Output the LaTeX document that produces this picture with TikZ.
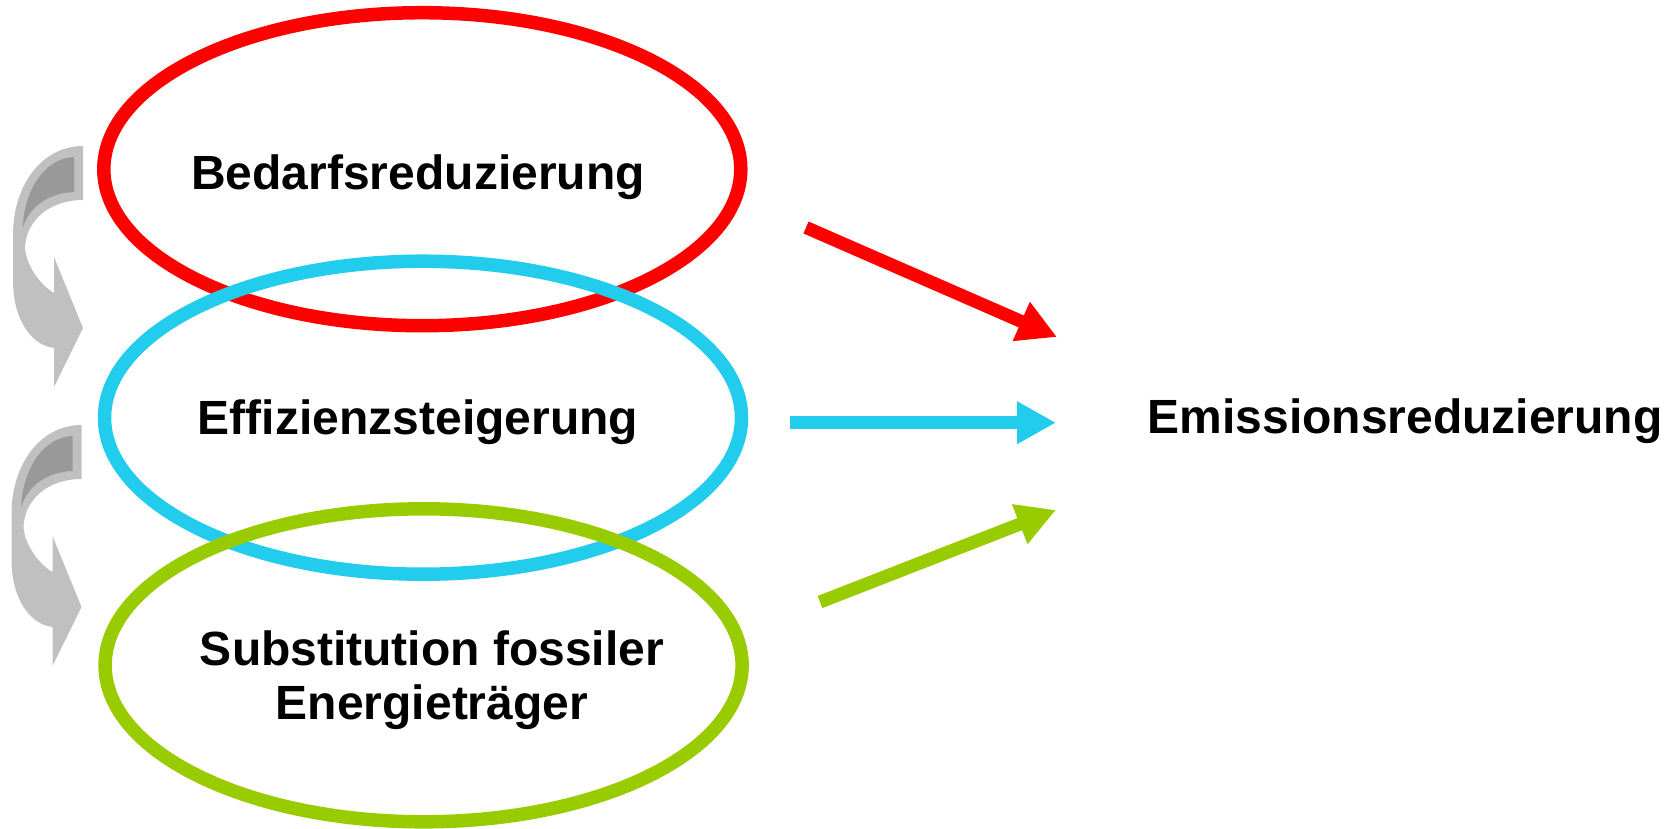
\documentclass[tikz,border=0pt]{standalone}
\usepackage{fontspec}
\setmainfont{Liberation Sans}
\usetikzlibrary{arrows.meta,shapes.geometric}
\definecolor{cRed}{RGB}{255,0,0}
\definecolor{cCyan}{RGB}{34,204,236}
\definecolor{cGreen}{RGB}{153,204,0}
\definecolor{gLight}{RGB}{192,192,192}
\definecolor{gDark}{RGB}{153,153,153}
\tikzset{
  ring/.style={ellipse, draw, line width=13.5pt, inner sep=0pt, minimum width=637pt, minimum height=313pt},
  lbl/.style={font=\fontsize{48}{54}\selectfont\bfseries, inner sep=0pt, align=center, text=black},
  bigarrow/.style={line width=13pt, -{Triangle[length=39pt,width=40pt]}},
  curvarrow/.pic={
    \fill[gLight] (83,146) .. controls (42,146) and (13,185) .. (13,235) -- (13,280)
      .. controls (13,318) and (30,345) .. (54,348) -- (54,387) -- (83,328) -- (54,257) -- (54,293)
      .. controls (40,285) and (26,265) .. (25,248) .. controls (26,220) and (50,200) .. (83,200) -- cycle;
    \fill[gDark] (74,157) -- (74,192) .. controls (50,193) and (30,205) .. (22.7,228)
      .. controls (24,190) and (45,158) .. (74,157) -- cycle;
  }
}
\begin{document}
\begin{tikzpicture}[x=1pt,y=-1pt]
\useasboundingbox (0,0) rectangle (1675,828);
\pic at (0,0) {curvarrow};
\pic at (-1.5,279) {curvarrow};
\node[ring, draw=cRed] (red) at (422.3,169.2) {};
\node[ring, draw=cCyan] (cyan) at (423,417.7) {};
\node[ring, draw=cGreen] (green) at (423.6,665.3) {};
\node[lbl] (t1) at (418,177) {Bedarfsreduzierung};
\node[lbl] (t2) at (418,422) {Effizienzsteigerung};
\node[lbl] (t3) at (432,680) {Substitution fossiler\\Energieträger};
\node[lbl] (t4) at (1405,421) {Emissionsreduzierung};
\coordinate (rs) at (806,227.5);
\coordinate (re) at (1057,337);
\coordinate (cs) at (790,422.7);
\coordinate (ce) at (1056,422.7);
\coordinate (gs) at (820,602);
\coordinate (ge) at (1056,510);
\draw[bigarrow, cRed] (rs) -- (re);
\draw[bigarrow, cCyan] (cs) -- (ce);
\draw[bigarrow, cGreen] (gs) -- (ge);
\end{tikzpicture}
\end{document}
